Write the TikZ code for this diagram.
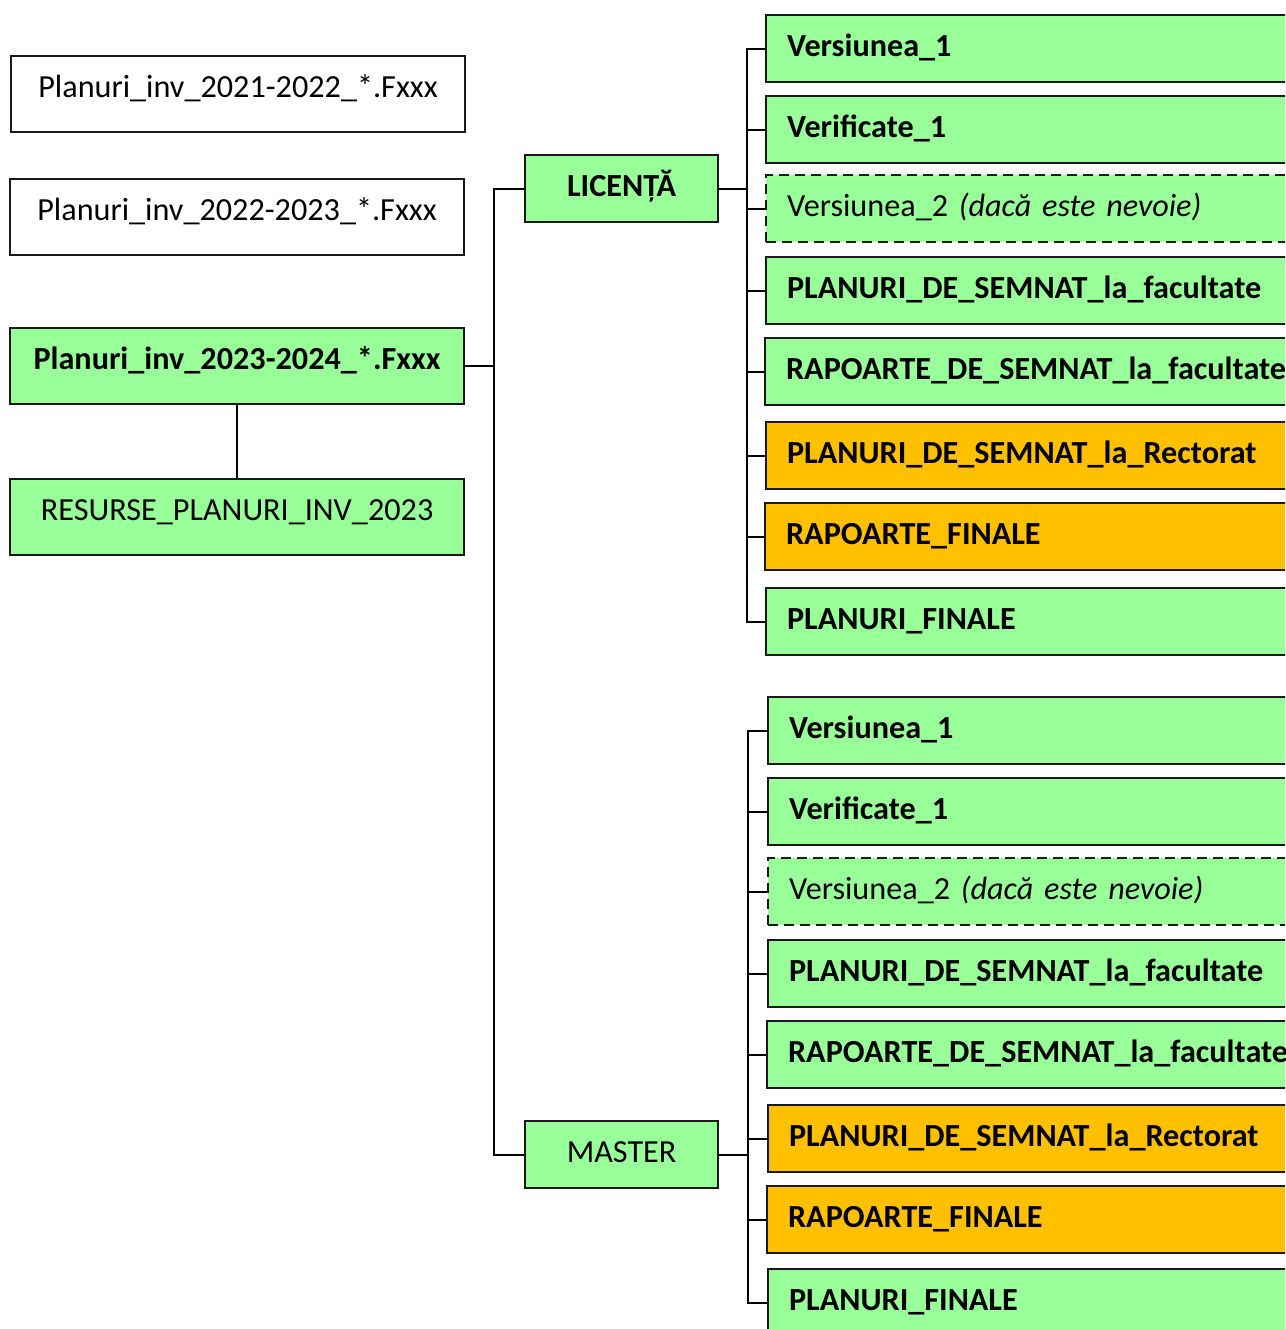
\documentclass[tikz,border=0pt]{standalone}
\usepackage{fontspec}
\setmainfont{Carlito}
\definecolor{lgreen}{RGB}{153,255,153}
\definecolor{lorange}{RGB}{255,192,0}
\tikzset{
  x=1pt, y=-1pt,
  conn/.style={line width=2pt, black},
  basebox/.style={draw=black!90, line width=2.2pt, font=\fontsize{32.2}{38}\selectfont, inner ysep=0pt},
  bf/.style={font=\fontsize{32.2}{38}\selectfont\bfseries},
  leftbox/.style={basebox, anchor=north west, minimum width=454pt, text height=41pt, text depth=35pt, inner xsep=0pt},
  midbox/.style={basebox, anchor=north west, minimum width=193pt, minimum height=67pt, text height=22pt, text depth=7pt, fill=lgreen},
  rbox/.style={basebox, anchor=north west, text width=520pt, align=left, inner xsep=21pt, minimum height=67pt, text height=22pt, text depth=7pt},
  gbox/.style={rbox, fill=lgreen, bf},
  obox/.style={rbox, fill=lorange, bf},
  dbox/.style={rbox, fill=lgreen, dash pattern=on 10pt off 6pt},
}
\begin{document}
\begin{tikzpicture}
\clip (0,0) rectangle (1285,1329);
\fill[white] (0,0) rectangle (1285,1329);
% left column
\node[leftbox] (a) at (10,55) {Planuri\_inv\_2021-2022\_*.Fxxx};
\node[leftbox] (b) at (9,178) {Planuri\_inv\_2022-2023\_*.Fxxx};
\node[leftbox, fill=lgreen, bf] (c) at (9,327) {Planuri\_inv\_2023-2024\_*.Fxxx};
\node[leftbox, fill=lgreen] (d) at (9,478) {RESURSE\_PLANURI\_INV\_2023};
\draw[conn] (c.south) -- (d.north);
% middle
\node[midbox, bf] (lic) at (524,154) {LICENȚĂ};
\node[midbox] (mas) at (524,1120) {MASTER};
\coordinate (tk) at (494,0);
\draw[conn] (c.east) -- (c.east -| tk);
\draw[conn] (lic.west) -- (lic.west -| tk) -- (mas.west -| tk) -- (mas.west);
% licenta children
\node[gbox] (l1) at (765,14) {Versiunea\_1};
\node[gbox] (l2) at (765,95) {Verificate\_1};
\node[dbox] (l3) at (765,174) {Versiunea\_2 \textit{(dacă este nevoie)}};
\node[gbox] (l4) at (765,256) {PLANURI\_DE\_SEMNAT\_la\_facultate};
\node[gbox] (l5) at (764,337) {RAPOARTE\_DE\_SEMNAT\_la\_facultate};
\node[obox] (l6) at (765,421) {PLANURI\_DE\_SEMNAT\_la\_Rectorat};
\node[obox] (l7) at (764,502) {RAPOARTE\_FINALE};
\node[gbox] (l8) at (765,587) {PLANURI\_FINALE};
\coordinate (rl) at (747,0);
\draw[conn] (lic.east) -- (lic.east -| rl);
\draw[conn] (l1.west) -- (l1.west -| rl) -- (l8.west -| rl) -- (l8.west);
\foreach \i in {2,...,7} {\draw[conn] (l\i.west) -- (l\i.west -| rl);}
% master children
\node[gbox] (m1) at (767,696) {Versiunea\_1};
\node[gbox] (m2) at (767,777) {Verificate\_1};
\node[dbox] (m3) at (767,857) {Versiunea\_2 \textit{(dacă este nevoie)}};
\node[gbox] (m4) at (767,939) {PLANURI\_DE\_SEMNAT\_la\_facultate};
\node[gbox] (m5) at (766,1020) {RAPOARTE\_DE\_SEMNAT\_la\_facultate};
\node[obox] (m6) at (767,1104) {PLANURI\_DE\_SEMNAT\_la\_Rectorat};
\node[obox] (m7) at (766,1185) {RAPOARTE\_FINALE};
\node[gbox] (m8) at (767,1268) {PLANURI\_FINALE};
\coordinate (rm) at (748,0);
\draw[conn] (mas.east) -- (mas.east -| rm);
\draw[conn] (m1.west) -- (m1.west -| rm) -- (m8.west -| rm) -- (m8.west);
\foreach \i in {2,...,7} {\draw[conn] (m\i.west) -- (m\i.west -| rm);}
\end{tikzpicture}
\end{document}
